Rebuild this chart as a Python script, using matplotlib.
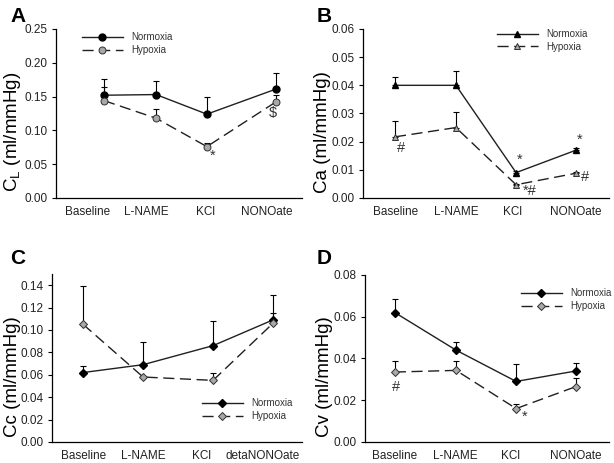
#!/usr/bin/env python3
import numpy as np
import matplotlib as mpl
mpl.use('Agg')
import matplotlib.pyplot as plt

plt.rcParams['font.family'] = ['Liberation Sans', 'DejaVu Sans']

################################################################################
# data

labels_abd = ['Baseline', 'L-NAME', 'KCl', 'NONOate']
labels_c = ['Baseline', 'L-NAME', 'KCl', 'detaNONOate']

# panel A, C_L
cl_norm = [0.152, 0.153, 0.124, 0.161]
cl_norm_err = [0.024, 0.020, 0.025, 0.024]
cl_hyp = [0.144, 0.118, 0.076, 0.142]
cl_hyp_err = [0.020, 0.013, 0.005, 0.010]

# panel B, Ca
ca_norm = [0.040, 0.040, 0.009, 0.017]
ca_norm_err = [0.003, 0.005, 0.0006, 0.0006]
ca_hyp = [0.0217, 0.025, 0.0047, 0.0088]
ca_hyp_err = [0.0055, 0.0055, 0.0004, 0.0004]

# panel C, Cc
cc_norm = [0.062, 0.069, 0.086, 0.109]
cc_norm_err = [0.006, 0.020, 0.022, 0.022]
cc_hyp = [0.105, 0.058, 0.055, 0.106]
cc_hyp_err = [0.034, 0.0, 0.007, 0.009]

# panel D, Cv
cv_norm = [0.062, 0.044, 0.029, 0.034]
cv_norm_err = [0.0067, 0.004, 0.0083, 0.004]
cv_hyp = [0.0335, 0.0343, 0.016, 0.0265]
cv_hyp_err = [0.0054, 0.0046, 0.002, 0.0043]

################################################################################

fig = plt.figure(figsize=(6.14, 4.63), dpi=100)

ax_a = fig.add_axes([0.0912, 0.5724, 0.4007, 0.365])
ax_b = fig.add_axes([0.5912, 0.5724, 0.4007, 0.365])
ax_c = fig.add_axes([0.0847, 0.0454, 0.407, 0.3629])
ax_d = fig.add_axes([0.5945, 0.0454, 0.397, 0.3607])

GRAY = '#a8a8a8'


def panel(ax, xpts, xlab, labels, norm, nerr, hyp, herr, marker, ylim, yticks,
          ylabel, ylx, ms=5):
    z = np.zeros(len(norm))
    ax.errorbar(xpts, norm, yerr=[z, nerr], fmt='none', ecolor='black',
                elinewidth=0.8, capsize=2.2, capthick=0.8)
    ax.errorbar(xpts, hyp, yerr=[z, herr], fmt='none', ecolor='black',
                elinewidth=0.8, capsize=2.2, capthick=0.8)
    ax.plot(xpts, norm, '-', color='#202020', lw=1.0, marker=marker, ms=ms,
            mfc='black', mec='black', label='Normoxia', zorder=3)
    ax.plot(xpts, hyp, '--', color='#202020', lw=1.0, dashes=(8, 4),
            marker=marker, ms=ms, mfc=GRAY, mec='#303030', mew=0.7,
            label='Hypoxia', zorder=3)
    ax.set_xlim(0, 4.5)
    ax.set_ylim(*ylim)
    ax.set_yticks(yticks)
    ax.set_yticklabels(['%.2f' % t for t in yticks], fontsize=8.5,
                       color='#222222')
    ax.set_xticks(xlab)
    ax.set_xticklabels(labels, fontsize=8.5, color='#222222')
    ax.tick_params(axis='x', length=0, pad=6)
    ax.tick_params(axis='y', length=3, width=0.8, pad=3)
    for s in ['top', 'right']:
        ax.spines[s].set_visible(False)
    for s in ['left', 'bottom']:
        ax.spines[s].set_linewidth(0.9)
    ax.set_ylabel(ylabel, fontsize=13.5)
    ax.yaxis.set_label_coords(ylx, 0.39)


panel(ax_a, [0.88, 1.83, 2.76, 4.02], [0.57, 1.65, 2.73, 3.86], labels_abd,
      cl_norm, cl_norm_err, cl_hyp, cl_hyp_err, 'o',
      (0, 0.25), np.arange(0, 0.251, 0.05), r'C$_\mathregular{L}$ (ml/mmHg)',
      -0.135)
panel(ax_b, [0.585, 1.70, 2.80, 3.90], [0.60, 1.70, 2.73, 3.90], labels_abd,
      ca_norm, ca_norm_err, ca_hyp, ca_hyp_err, '^',
      (0, 0.06), np.arange(0, 0.061, 0.01), 'Ca (ml/mmHg)', -0.13)
panel(ax_c, [0.56, 1.64, 2.90, 3.98], [0.56, 1.65, 2.70, 3.80], labels_c,
      cc_norm, cc_norm_err, cc_hyp, cc_hyp_err, 'D',
      (0, 0.15), np.arange(0, 0.141, 0.02), 'Cc (ml/mmHg)', -0.125, ms=3.8)
panel(ax_d, [0.55, 1.68, 2.79, 3.89], [0.55, 1.66, 2.69, 3.89], labels_abd,
      cv_norm, cv_norm_err, cv_hyp, cv_hyp_err, 'D',
      (0, 0.08), np.arange(0, 0.081, 0.02), 'Cv (ml/mmHg)', -0.13, ms=3.8)

# significance marks
ann = dict(fontsize=10.5, color='#333333', ha='center', va='center')
ax_a.text(2.87, 0.063, '*', **ann)
ax_a.text(3.97, 0.126, '$', **ann)
ax_b.text(0.70, 0.0178, '#', **ann)
ax_b.text(2.87, 0.0136, '*', **ann)
ax_b.text(3.04, 0.0025, '*#', **ann)
ax_b.text(3.97, 0.0205, '*', **ann)
ax_b.text(4.06, 0.0075, '#', **ann)
ax_d.text(0.57, 0.0263, '#', **ann)
ax_d.text(2.95, 0.0123, '*', **ann)

leg = dict(frameon=False, fontsize=7, handlelength=4.2, handletextpad=0.9,
           labelspacing=0.3, borderpad=0, borderaxespad=0)
for lg in [ax_a.legend(loc='upper left', bbox_to_anchor=(0.106, 0.98), **leg),
           ax_b.legend(loc='upper left', bbox_to_anchor=(0.545, 1.0), **leg),
           ax_c.legend(loc='upper left', bbox_to_anchor=(0.60, 0.26), **leg),
           ax_d.legend(loc='upper left', bbox_to_anchor=(0.64, 0.92), **leg)]:
    for t in lg.get_texts():
        t.set_color('#333333')

# panel letters
for x, y, s in [(10, 16, 'A'), (317, 16, 'B'), (10, 259, 'C'), (317, 259, 'D')]:
    fig.text(x / 614, 1 - y / 463, s, fontsize=15, fontweight='bold',
             va='center', ha='left')

fig.savefig('out.png', dpi=100)
